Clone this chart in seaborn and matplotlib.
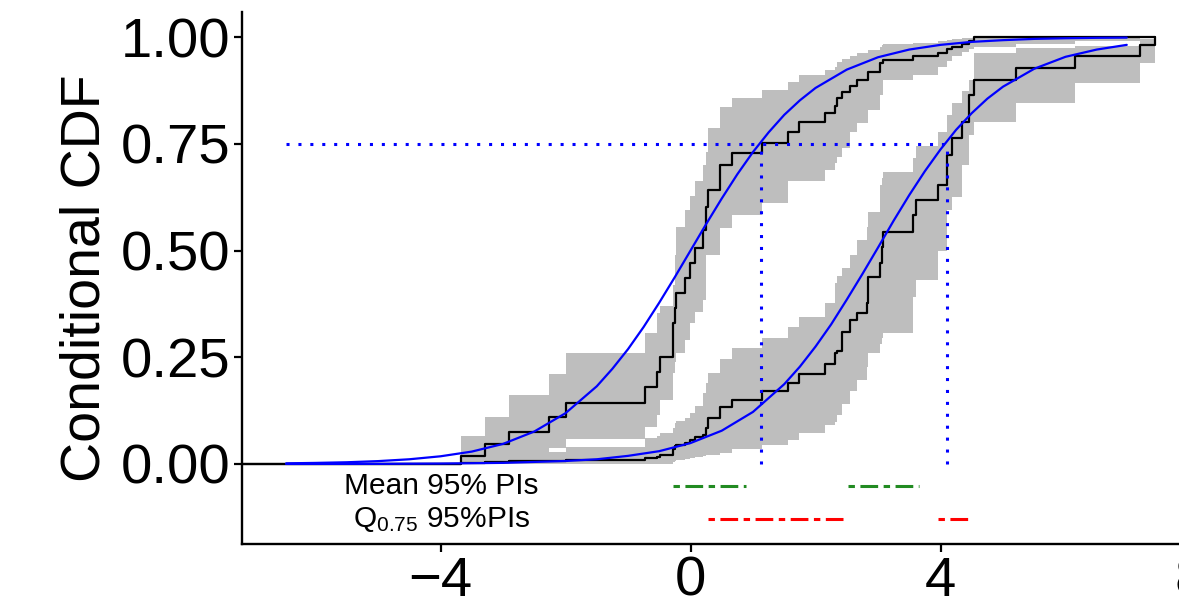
import numpy as np
import pandas as pd
import matplotlib
matplotlib.use("Agg")
import matplotlib.pyplot as plt
import seaborn as sns

# ---------------- data ----------------
# shared jump locations of the two (weighted) empirical conditional CDFs
jump_x = [-3.67, -3.29, -2.90, -2.26, -1.99, -0.73, -0.54, -0.49, -0.275, -0.25,
          -0.232, -0.088, -0.008, 0.072, 0.205, 0.248, 0.285, 0.472, 0.67, 1.139,
          1.566, 1.741, 2.152, 2.31, 2.34, 2.42, 2.55, 2.66, 2.82, 2.845,
          3.03, 3.06, 3.085, 3.565, 3.61, 3.965, 4.11, 4.18, 4.35, 4.46,
          4.53, 5.20, 6.15, 7.19, 7.43]

ecdf1 = [0.018, 0.047, 0.076, 0.109, 0.144, 0.180, 0.216, 0.251, 0.330, 0.365,
         0.400, 0.435, 0.470, 0.506, 0.548, 0.603, 0.642, 0.701, 0.728, 0.752,
         0.779, 0.802, 0.822, 0.839, 0.857, 0.871, 0.886, 0.900, 0.900, 0.919,
         0.939, 0.939, 0.947, 0.957, 0.957, 0.964, 0.972, 0.978, 0.984, 0.990,
         1.000, 1.000, 1.000, 1.000, 1.000]
lo1 = [0.000, 0.000, 0.010, 0.037, 0.058, 0.087, 0.115, 0.150, 0.213, 0.240,
       0.260, 0.290, 0.330, 0.355, 0.384, 0.490, 0.490, 0.553, 0.584, 0.611,
       0.662, 0.662, 0.689, 0.705, 0.720, 0.740, 0.779, 0.800, 0.800, 0.830,
       0.865, 0.865, 0.900, 0.911, 0.911, 0.930, 0.945, 0.955, 0.965, 0.972,
       0.978, 0.985, 0.990, 1.000, 1.000]
hi1 = [0.066, 0.111, 0.162, 0.211, 0.259, 0.306, 0.353, 0.370, 0.420, 0.490,
       0.556, 0.595, 0.627, 0.662, 0.700, 0.730, 0.787, 0.837, 0.857, 0.876,
       0.896, 0.911, 0.924, 0.930, 0.943, 0.948, 0.955, 0.962, 0.962, 0.970,
       0.978, 0.982, 0.984, 0.986, 0.986, 0.990, 0.993, 0.995, 0.997, 0.999,
       1.000, 1.000, 1.000, 1.000, 1.000]

ecdf2 = [0.002, 0.004, 0.006, 0.008, 0.010, 0.013, 0.016, 0.020, 0.035, 0.042,
         0.045, 0.050, 0.056, 0.064, 0.068, 0.085, 0.107, 0.134, 0.150, 0.170,
         0.189, 0.210, 0.234, 0.259, 0.265, 0.310, 0.337, 0.353, 0.377, 0.439,
         0.470, 0.509, 0.544, 0.584, 0.619, 0.654, 0.724, 0.763, 0.802, 0.865,
         0.900, 0.928, 0.957, 0.982, 1.000]
lo2 = [0.000, 0.000, 0.000, 0.000, 0.000, 0.000, 0.000, 0.000, 0.005, 0.008,
       0.010, 0.012, 0.014, 0.016, 0.018, 0.020, 0.022, 0.026, 0.035, 0.045,
       0.056, 0.072, 0.091, 0.099, 0.115, 0.140, 0.170, 0.197, 0.228, 0.260,
       0.280, 0.295, 0.306, 0.392, 0.430, 0.500, 0.595, 0.626, 0.700, 0.770,
       0.802, 0.845, 0.892, 0.939, 1.000]
hi2 = [0.004, 0.008, 0.012, 0.028, 0.040, 0.060, 0.066, 0.072, 0.085, 0.095,
       0.100, 0.108, 0.120, 0.135, 0.166, 0.190, 0.213, 0.246, 0.272, 0.295,
       0.322, 0.345, 0.377, 0.424, 0.440, 0.460, 0.490, 0.525, 0.556, 0.590,
       0.654, 0.670, 0.685, 0.716, 0.744, 0.779, 0.818, 0.846, 0.873, 0.900,
       0.962, 0.975, 0.980, 0.995, 1.000]

# smooth model conditional CDFs (blue), read at these x positions
cdf1_x = [-6.47, -6.0, -5.5, -5.0, -4.5, -4.0, -3.5, -3.0, -2.5, -2.0, -1.5, -1.25,
          -1.0, -0.75, -0.5, -0.25, 0.0, 0.25, 0.5, 0.75, 1.0, 1.25, 1.5, 1.75,
          2.0, 2.5, 3.0, 3.5, 4.0, 4.5, 5.0, 5.5, 6.0, 6.5, 6.98]
cdf1_y = [0.0015, 0.0025, 0.004, 0.0067, 0.011, 0.018, 0.029, 0.047, 0.076, 0.119,
          0.182, 0.223, 0.269, 0.321, 0.378, 0.438, 0.500, 0.562, 0.622, 0.679,
          0.731, 0.777, 0.818, 0.852, 0.881, 0.924, 0.953, 0.971, 0.982, 0.989,
          0.993, 0.996, 0.9975, 0.9985, 0.999]
cdf2_x = [-6.47, -5.0, -4.0, -3.0, -2.0, -1.5, -1.0, -0.5, 0.0, 0.5, 1.0, 1.5,
          1.75, 2.0, 2.25, 2.5, 2.75, 3.0, 3.25, 3.5, 3.75, 4.0, 4.25, 4.5,
          4.75, 5.0, 5.5, 6.0, 6.5, 6.98]
cdf2_y = [0.0001, 0.0003, 0.001, 0.0026, 0.007, 0.011, 0.019, 0.030, 0.049, 0.078,
          0.122, 0.187, 0.228, 0.275, 0.327, 0.385, 0.445, 0.507, 0.570, 0.630,
          0.686, 0.737, 0.783, 0.822, 0.856, 0.884, 0.926, 0.954, 0.971, 0.982]

# 0.75 quantiles of the two model CDFs
q_level = 0.75
q75 = [1.13, 4.10]

# 95% prediction intervals shown under the axis
mean_pi_lo = [-0.275, 2.525]
mean_pi_hi = [0.89, 3.66]
q75_pi_lo = [0.285, 3.965]
q75_pi_hi = [2.445, 4.435]
mean_pi_row = -0.051
q75_pi_row = -0.130
pi_labels = ["Mean 95% PIs", r"Q$_{0.75}$ 95%PIs"]
pi_label_x = -3.98

xticks = [-4, 0, 4, 8]
xticklabels = ["\u22124", "0", "4", "8"]
yticks = [0.0, 0.25, 0.5, 0.75, 1.0]
yticklabels = ["0.00", "0.25", "0.50", "0.75", "1.00"]
ylabel = "Conditional CDF"

# ---------------- style ----------------
sns.set_style("ticks")
plt.rcParams["font.family"] = ["Liberation Sans", "DejaVu Sans"]
plt.rcParams["mathtext.fontset"] = "custom"
plt.rcParams["mathtext.rm"] = "Liberation Sans"
plt.rcParams["mathtext.it"] = "Liberation Sans"
plt.rcParams["axes.unicode_minus"] = True
plt.rcParams["text.color"] = "black"
plt.rcParams["axes.labelcolor"] = "black"
plt.rcParams["xtick.color"] = "black"
plt.rcParams["ytick.color"] = "black"

W, H = 1179, 616
fig = plt.figure(figsize=(W / 100, H / 100), dpi=100)
ax = fig.add_axes([242 / W, 72 / H, 961 / W, 532 / H])
ax.set_xlim(-7.176, 8.2)
ax.set_ylim(-0.1875, 1.059)

xl = ax.get_xlim()[0]
grey = "#BEBEBE"

# bands
ax.fill_between(jump_x, lo1, hi1, step="post", color=grey, linewidth=0, zorder=1)
ax.fill_between(jump_x, lo2, hi2, step="post", color=grey, linewidth=0, zorder=1)

# empirical step CDFs
df1 = pd.DataFrame({"x": [xl] + jump_x, "y": [0.0] + ecdf1})
df2 = pd.DataFrame({"x": [xl] + jump_x, "y": [0.0] + ecdf2})
for d in (df1, df2):
    sns.lineplot(data=d, x="x", y="y", ax=ax, color="black", lw=1.6,
                 drawstyle="steps-post", estimator=None, sort=False, zorder=3)

# model CDFs
sns.lineplot(x=cdf1_x, y=cdf1_y, ax=ax, color="blue", lw=1.6,
             estimator=None, sort=False, zorder=4)
sns.lineplot(x=cdf2_x, y=cdf2_y, ax=ax, color="blue", lw=1.6,
             estimator=None, sort=False, zorder=4)

# quantile guides
dot = (0, (1, 2.9))
ax.hlines(q_level, cdf1_x[0], max(q75), colors="blue", linestyles=[dot], lw=2.2, zorder=5)
ax.vlines(q75, 0, q_level, colors="blue", linestyles=[dot], lw=2.2, zorder=5)

# prediction intervals
dd = (0, (2.1, 1.8, 5.8, 1.8))
ax.hlines([mean_pi_row] * len(mean_pi_lo), mean_pi_lo, mean_pi_hi,
          colors="#228B22", linestyles=[dd], lw=2.2)
ax.hlines([q75_pi_row] * len(q75_pi_lo), q75_pi_lo, q75_pi_hi,
          colors="red", linestyles=[dd], lw=2.2)
ax.text(pi_label_x, mean_pi_row, pi_labels[0], ha="center", va="center",
        fontsize=21.5, color="black")
ax.text(pi_label_x, q75_pi_row, pi_labels[1], ha="center", va="center",
        fontsize=21.5, color="black")

# axes
ax.set_xticks(xticks)
ax.set_xticklabels(xticklabels)
ax.set_yticks(yticks)
ax.set_yticklabels(yticklabels)
ax.set_xlabel("")
ax.set_ylabel(ylabel, fontsize=40, color="black")
ax.yaxis.set_label_coords(-0.136, 0.5)
for s in ("top", "right"):
    ax.spines[s].set_visible(False)
for s in ("left", "bottom"):
    ax.spines[s].set_linewidth(1.7)
    ax.spines[s].set_color("black")
ax.tick_params(axis="both", length=5.8, width=1.6, labelsize=40.5, pad=2.5,
               colors="black")

fig.savefig("out.png", dpi=100)
